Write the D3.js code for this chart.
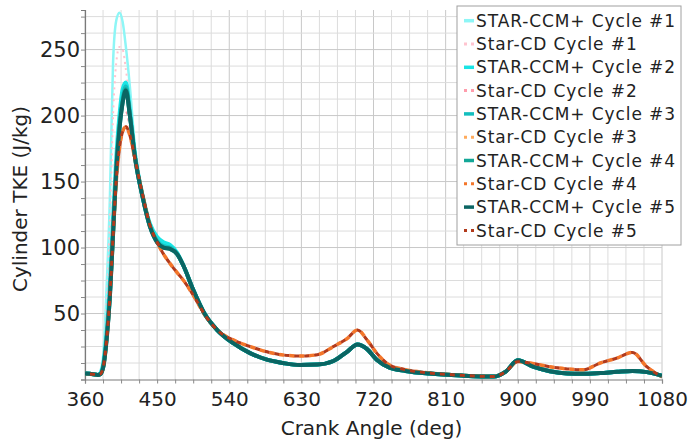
<!DOCTYPE html>
<html>
<head>
<meta charset="utf-8">
<script src="https://cdn.jsdelivr.net/npm/d3@7"></script>
<style>
  html, body { margin: 0; padding: 0; background: #ffffff; }
  svg { display: block; font-family: "DejaVu Sans", Verdana, sans-serif; }
</style>
</head>
<body>
<svg id="chart" width="690" height="445"></svg>
<script>
// Crank angle samples (deg) shared by every cycle
const angles = [360, 370, 376, 379, 383, 387, 391, 395, 399, 403, 407, 411, 416, 422, 432, 441, 450, 458, 466, 475, 483, 495, 510, 525, 545, 566, 587, 607, 628, 650, 670, 687, 700, 712, 724, 740, 760, 790, 830, 870, 885, 900, 920, 940, 962, 981, 1003, 1024, 1043, 1061, 1080];

// Cylinder TKE (J/kg), STAR-CCM+ cycles
const ccmCycle1 = [4.5, 4, 3.5, 6, 20, 70, 136, 240, 272, 278, 271, 252, 222, 178, 140, 118, 108, 104, 101, 95, 86, 68, 49, 37.5, 27.5, 20, 15, 12.5, 11, 11.3, 14, 21, 26.5, 23, 15, 9, 6.5, 4.5, 3, 2.2, 6, 14.5, 9.5, 6.2, 4.5, 4.3, 4.9, 5.8, 6.4, 5.6, 2.8];
const ccmCycle2 = [4.5, 4, 3.5, 4.5, 12, 36, 72, 122, 168, 200, 220, 225, 204, 172, 139, 118, 108, 104, 102, 96, 86, 68, 49, 37.5, 27.5, 20, 15, 12.5, 11, 11.3, 14, 21, 26.5, 23, 15, 9, 6.5, 4.5, 3, 2.2, 6, 14.5, 9.5, 6.2, 4.5, 4.3, 4.9, 5.8, 6.4, 5.6, 2.8];
const ccmCycle3 = [4.5, 4, 3.5, 4, 11, 32, 64, 112, 160, 192, 213, 222, 201, 170, 138, 116, 105, 101, 100, 95, 86, 68, 49, 37.5, 27.5, 20, 15, 12.5, 11, 11.3, 14, 21, 26.5, 23, 15, 9, 6.5, 4.5, 3, 2.2, 6, 14.5, 9.5, 6.2, 4.5, 4.3, 4.9, 5.8, 6.4, 5.6, 2.8];
const ccmCycle4 = [4.5, 4, 3.5, 4, 10, 31, 62, 110, 158, 190, 210, 220, 200, 170, 138, 116, 104, 100, 99, 95, 86, 68, 49, 37.5, 27.5, 20, 15, 12.5, 11, 11.3, 14, 21, 26.5, 23, 15, 9, 6.5, 4.5, 3, 2.2, 6, 14.5, 9.5, 6.2, 4.5, 4.3, 4.9, 5.8, 6.4, 5.6, 2.8];
const ccmCycle5 = [4.5, 4, 3.5, 4, 10, 30, 62, 110, 158, 190, 210, 219, 200, 170, 138, 116, 104, 100, 99, 95, 86, 68, 49, 37.5, 27.5, 20, 15, 12.5, 11, 11.3, 14, 21, 26.5, 23, 15, 9, 6.5, 4.5, 3, 2.2, 6, 14.5, 9.5, 6.2, 4.5, 4.3, 4.9, 5.8, 6.4, 5.6, 2.8];

// Cylinder TKE (J/kg), Star-CD cycles
const cdCycle1 = [4.5, 4, 3.5, 5.5, 18, 60, 120, 200, 240, 252, 250, 235, 210, 175, 140, 117, 104, 95, 88, 81, 75, 64, 48.5, 37.5, 30, 25, 21, 18.6, 17.8, 18.8, 25, 31, 37.5, 30, 20, 11, 7.5, 5, 3.2, 2.3, 6, 13.5, 12, 9.7, 8, 7.3, 12.5, 16.3, 20.5, 9.7, 2];
const cdCycle2 = [4.5, 4, 3.5, 4.5, 12, 40, 80, 130, 170, 195, 205, 204, 192, 170, 140, 117, 104, 95, 88, 81, 75, 64, 48.5, 37.5, 30, 25, 21, 18.6, 17.8, 18.8, 25, 31, 37.5, 30, 20, 11, 7.5, 5, 3.2, 2.3, 6, 13.5, 12, 9.7, 8, 7.3, 12.5, 16.3, 20.5, 9.7, 2];
const cdCycle3 = [4.5, 4, 3.5, 4, 10, 30, 62, 108, 150, 175, 188, 192, 185, 168, 140, 117, 104, 95, 88, 81, 75, 64, 48.5, 37.5, 30, 25, 21, 18.6, 17.8, 18.8, 25, 31, 37.5, 30, 20, 11, 7.5, 5, 3.2, 2.3, 6, 13.5, 12, 9.7, 8, 7.3, 12.5, 16.3, 20.5, 9.7, 2];
const cdCycle4 = [4.5, 4, 3.5, 4, 10, 30, 62, 108, 150, 175, 188, 191.5, 185, 168, 140, 117, 104, 95, 88, 81, 75, 64, 48.5, 37.5, 30, 25, 21, 18.6, 17.8, 18.8, 25, 31, 37.5, 30, 20, 11, 7.5, 5, 3.2, 2.3, 6, 13.5, 12, 9.7, 8, 7.3, 12.5, 16.3, 20.5, 9.7, 2];
const cdCycle5 = [4.5, 4, 3.5, 4, 10, 30, 62, 108, 150, 175, 188, 191.5, 185, 168, 140, 117, 104, 95, 88, 81, 75, 64, 48.5, 37.5, 30, 25, 21, 18.6, 17.8, 18.8, 25, 31, 37.5, 30, 20, 11, 7.5, 5, 3.2, 2.3, 6, 13.5, 12, 9.7, 8, 7.3, 12.5, 16.3, 20.5, 9.7, 2];

const seriesLabels = ["STAR-CCM+ Cycle #1", "Star-CD Cycle #1", "STAR-CCM+ Cycle #2", "Star-CD Cycle #2", "STAR-CCM+ Cycle #3", "Star-CD Cycle #3", "STAR-CCM+ Cycle #4", "Star-CD Cycle #4", "STAR-CCM+ Cycle #5", "Star-CD Cycle #5"];
const seriesValues = [ccmCycle1, cdCycle1, ccmCycle2, cdCycle2, ccmCycle3, cdCycle3, ccmCycle4, cdCycle4, ccmCycle5, cdCycle5];

const xTickValues = [360, 450, 540, 630, 720, 810, 900, 990, 1080];
const yTickValues = [50, 100, 150, 200, 250];

// Line styles per series (drawn in legend order)
const styles = [
  { color: "#8ef6f6", width: 2.5, dash: null },
  { color: "#ffc4cf", width: 2, dash: "2,4", offset: 0 },
  { color: "#1ae4e4", width: 4, dash: null },
  { color: "#ff9dac", width: 2.5, dash: "3,4", offset: 0 },
  { color: "#14bebe", width: 4, dash: null },
  { color: "#ffab5c", width: 2.5, dash: "3,4", offset: 0 },
  { color: "#13a797", width: 4, dash: null },
  { color: "#f4762a", width: 3.5, dash: "5,5", offset: 0 },
  { color: "#0b6563", width: 4, dash: null },
  { color: "#b23a1b", width: 3, dash: "5,5", offset: 5 }
];

const svg = d3.select("#chart");
const plotLeft = 85, plotRight = 662, plotTop = 10, plotBottom = 379.5;

const x = d3.scaleLinear().domain([360, 1080]).range([plotLeft, plotRight]);
const y = d3.scaleLinear().domain([0, 280]).range([plotBottom, plotTop]);

// Grid
const grid = svg.append("g");
d3.range(360, 1080.1, 22.5).forEach(v => {
  grid.append("line")
    .attr("x1", x(v)).attr("x2", x(v)).attr("y1", plotTop).attr("y2", plotBottom)
    .attr("stroke", v % 90 === 0 ? "#c8c8c8" : "#dcdcdc").attr("stroke-width", 1);
});
d3.range(12.5, 280, 12.5).forEach(v => {
  grid.append("line")
    .attr("x1", plotLeft).attr("x2", plotRight).attr("y1", y(v)).attr("y2", y(v))
    .attr("stroke", v % 50 === 0 ? "#c8c8c8" : "#dcdcdc").attr("stroke-width", 1);
});

// Axes
const xAxis = d3.axisBottom(x).tickValues(d3.range(360, 1080.1, 22.5)).tickSize(4).tickFormat(d => xTickValues.includes(d) ? d : "");
const yAxis = d3.axisLeft(y).tickValues(d3.range(0, 280, 12.5)).tickSize(4).tickFormat(d => yTickValues.includes(d) ? d : "");

const gx = svg.append("g").attr("transform", `translate(0,${plotBottom})`).call(xAxis);
const gy = svg.append("g").attr("transform", `translate(${plotLeft},0)`).call(yAxis);
[gx, gy].forEach(g => {
  g.select(".domain").attr("stroke", "#7a7a7a").attr("stroke-width", 1.2);
  g.selectAll(".tick line").attr("stroke", "#8a8a8a");
  g.selectAll(".tick text").attr("fill", "#222").style("font-size", "20px").style("font-family", "DejaVu Sans, sans-serif");
});
gx.selectAll(".tick text").attr("dy", "0.95em");
gy.selectAll(".tick text").attr("x", -5).style("font-size", "21px");

// Axis titles
svg.append("text").attr("x", (plotLeft + plotRight) / 2 - 2).attr("y", 435)
  .attr("text-anchor", "middle").attr("fill", "#222").style("font-size", "20px")
  .text("Crank Angle (deg)");
svg.append("text").attr("transform", `translate(27,199) rotate(-90)`)
  .attr("text-anchor", "middle").attr("fill", "#222").style("font-size", "20px")
  .text("Cylinder TKE (J/kg)");

// Curves
svg.append("clipPath").attr("id", "plotClip").append("rect")
  .attr("x", plotLeft).attr("y", plotTop - 2).attr("width", plotRight - plotLeft).attr("height", plotBottom - plotTop + 2);

const line = d3.line()
  .x(d => x(d[0])).y(d => y(d[1]))
  .curve(d3.curveMonotoneX);

const curves = svg.append("g").attr("clip-path", "url(#plotClip)");
seriesValues.forEach((vals, i) => {
  const st = styles[i];
  const path = curves.append("path")
    .datum(angles.map((a, j) => [a, vals[j]]))
    .attr("d", line)
    .attr("fill", "none")
    .attr("stroke", st.color)
    .attr("stroke-width", st.width)
    .attr("stroke-linejoin", "round");
  if (st.dash) path.attr("stroke-dasharray", st.dash).attr("stroke-dashoffset", st.offset || 0);
});

// Legend
const legX = 457, legY = 6, legW = 224, legH = 239;
const legend = svg.append("g");
legend.append("rect").attr("x", legX).attr("y", legY).attr("width", legW).attr("height", legH)
  .attr("fill", "#ffffff").attr("stroke", "#a0a0a0").attr("stroke-width", 1);

seriesLabels.forEach((label, i) => {
  const cy = 20.7 + i * 23.3;
  const st = styles[i];
  if (st.dash) {
    legend.append("line").attr("x1", 464).attr("x2", 474).attr("y1", cy).attr("y2", cy)
      .attr("stroke", st.color).attr("stroke-width", 3).attr("stroke-dasharray", "3,4");
  } else {
    legend.append("line").attr("x1", 464).attr("x2", 474).attr("y1", cy).attr("y2", cy)
      .attr("stroke", st.color).attr("stroke-width", 3.5);
  }
  legend.append("text").attr("x", 476).attr("y", cy).attr("dy", "0.36em")
    .attr("fill", "#222").style("font-size", "17px").style("letter-spacing", "0.9px")
    .text(label);
});
</script>
</body>
</html>
